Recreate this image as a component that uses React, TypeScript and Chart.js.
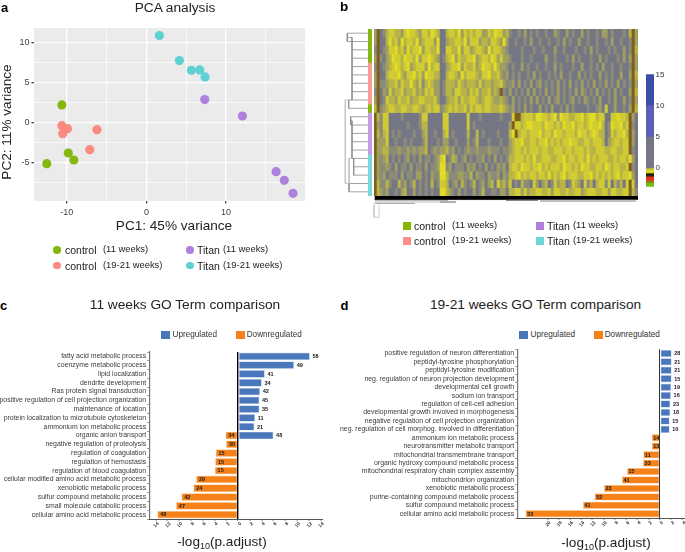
import React, { useEffect, useRef } from "react";
import { Chart, registerables } from "chart.js";

Chart.register(...registerables);

const FONT = '"Liberation Sans", Arial, sans-serif';

// ---------- Panel a: PCA ----------
const pcaControl11 = [{ x: -10.6, y: 2.18 }, { x: -9.8, y: -3.85 }, { x: -9.1, y: -4.73 }, { x: -12.5, y: -5.19 }];
const pcaControl19 = [{ x: -10.6, y: -0.42 }, { x: -9.9, y: -0.8 }, { x: -10.5, y: -1.42 }, { x: -6.2, y: -0.92 }, { x: -7.1, y: -3.43 }];
const pcaTitan19 = [{ x: 1.63, y: 10.88 }, { x: 4.14, y: 7.74 }, { x: 5.65, y: 6.53 }, { x: 6.7, y: 6.57 }, { x: 7.36, y: 5.69 }];
const pcaTitan11 = [{ x: 7.32, y: 2.85 }, { x: 12.05, y: 0.79 }, { x: 16.28, y: -6.19 }, { x: 17.3, y: -7.28 }, { x: 18.4, y: -8.91 }];
const pcaXTicks = [-10, -5, 0, 5, 10, 15];
const pcaYTicks = [-7.5, -5, -2.5, 0, 2.5, 5, 7.5, 10];

const GREEN = "#84b80f";
const PINK = "#fa8a82";
const TEAL = "#5fd0d4";
const PURPLE = "#ae82dc";

// ---------- Panel b: heat map ----------
const heatRows = [
  "26013443324 54432443543 00344352434 34422435442 31001020101 00100210020 10020100102 20100010362",
  "26003534253 44352344425 00233443524 44233244325 20010010200 10010010201 00200100100 10200100162",
  "16012445342 53445244335 00443352442 34432534432 10000100010 01000200100 01001020100 01010020163",
  "26102354435 44352445432 01345243344 52344354242 21000100100 00200100010 20100010020 10001020262",
  "16012345434 52344425344 00234452433 42354435322 10100201001 00100201000 10020010102 00100100162",
  "26003444532 44534254433 00344325344 43244533421 20101001020 10010102001 00201010020 10100200263",
  "26112334243 35324134322 01333243233 32423323342 11202010201 20101020102 01020102010 20102010162",
  "16021423342 33423243422 01332443324 34233423261 02010102020 10201020101 02021010201 01020100263",
  "26014332433 42334433342 00233424334 43234432232 10201010202 01020120101 20102101020 01020020162",
  "36123443344 33443234344 12343433424 34434433343 21201020100 20102001020 10000100120 40020010263",
  "63144000010 00001440000 04400000040 00100000010 00466344435 54434525443 34453455344 00445443620",
  "62144000000 10001330000 04400000040 10000000000 02644345544 43544343544 53443454453 01544534610",
  "63134010100 00100230010 03401000030 03010000100 03563443444 53443544344 43544345433 01434453620",
  "62224001001 01000130001 02200100020 13000100010 02344533443 44534343445 44334434443 02344344620",
  "62233111211 21212230121 22312010121 12111211101 12344343444 34433444344 34443433444 33443344610",
  "62123010101 20102011012 45013201201 01120102010 13344434353 34443344534 43443534344 43343443520",
  "62112102011 02011020112 55120111021 20102010212 03443544344 53434443544 34354433443 54344334610",
  "62120111020 11022010211 55311122113 02110211202 13345343443 44353434534 44334453434 34345344520",
  "63113100312 01301010301 44301203101 30120230423 14010311042 02301423301 43204130344 14031304640",
  "63212001023 00201010100 55321020100 20130011022 03344242334 43342443343 34423444334 42443344631",
];
const heatPalette = ["#757785", "#8b8b78", "#a09e60", "#b8b448", "#d0ca34", "#e2dc24", "#7d6020"];

const rowGroupSizes = [4, 5, 1, 5, 5];
const rowGroupColors = [GREEN, "#fb9c94", GREEN, "#c89ae6", "#78d8dc"];

// Row dendrogram: [height1, row1, height2, row2]
const dendroDark = [
  [20.7, 0, 0, 0], [20.7, 1, 0, 1], [20.7, 0, 20.7, 1], [20.7, 0.5, 16, 0.5],
  [16, 0.5, 16, 8], [16, 2, 0, 2], [16, 3, 0, 3], [16, 4, 0, 4], [16, 5, 0, 5],
  [16, 6, 0, 6], [16, 7, 0, 7], [16, 8, 0, 8], [19.3, 8, 16, 8], [19.3, 8, 19.3, 9], [19.3, 9, 0, 9],
  [17.3, 10, 0, 10], [17.3, 11, 0, 11], [17.3, 10, 17.3, 11], [17.3, 10.5, 16, 10.5],
  [16, 10.5, 16, 15], [16, 12, 0, 12], [16, 13, 0, 13], [16, 14, 0, 14], [16, 15, 0, 15],
  [14.3, 15, 14.3, 17], [14.3, 16, 0, 16], [14.3, 17, 0, 17],
  [19, 18, 0, 18], [19, 19, 0, 19], [19, 18, 19, 19],
];
const dendroLight = [
  [22.7, 8, 22.7, 18], [22.7, 8, 19.3, 8], [22.7, 18, 19, 18], [19, 15, 16, 15], [19, 15, 19, 18],
];

// Column dendrogram, squashed to a band under the heat map
const colDendroX1 = [2.7, 2.7, 76, 134, 168, 2.7, 2.7, 68];
const colDendroX2 = [266, 76, 136, 166, 264, 68, 43, 84];
const colDendroY = [1.9, 3.9, 3.6, 4.3, 5, 6, 7.3, 6];
const colDendroW = [3.8, 1, 1, 1, 1.5, 1, 1, 1.2];
const colDendroC = ["#000", "#444", "#999", "#666", "#aaa", "#bbb", "#999", "#777"];
const colDendroLegX = [2, 7];
const colDendroLegTop = 8.7;
const colDendroLegBottom = 21.3;

const colorbarLow = [10, 5, 0, -0.4, -0.7, -0.9, -1.2, -1.4, -2, -2.3];
const colorbarHigh = [15, 10, 5, 0, -0.4, -0.7, -0.9, -1.2, -1.4, -2];
const colorbarLast = [-3, -2.3];
const colorbarColors = ["#3e4ea6", "#5c5fb6", "#757785", "#c9c42e", "#e8e020", "#6e6a1a", "#111111", "#7a2a10", "#e0321a", "#8d7a1a", "#6fbf10"];
const colorbarTicks = [0, 5, 10, 15];

// ---------- Panel c ----------
const termsC = [
  "fatty acid metabolic process", "coenzyme metabolic process", "lipid localization", "dendrite development",
  "Ras protein signal transduction", "positive regulation of cell projection organization", "maintenance of location",
  "protein localization to microtubule cytoskeleton", "ammonium ion metabolic process", "organic anion transport",
  "negative regulation of proteolysis", "regulation of coagulation", "regulation of hemostasis",
  "regulation of blood coagulation", "cellular modified amino acid metabolic process", "xenobiotic metabolic process",
  "sulfur compound metabolic process", "small molecule catabolic process", "cellular amino acid metabolic process",
];
const upC = [12.17, 9.5, 4.53, 4.02, 3.73, 3.62, 3.62, 2.89, 2.77, 6.0, null, null, null, null, null, null, null, null, null];
const downC = [null, null, null, null, null, null, null, null, null, -2.15, -2.04, -3.8, -3.9, -3.96, -7.13, -7.58, -9.62, -10.53, -13.7];
const upCountC = [58, 49, 41, 34, 42, 45, 35, 11, 21, 48, null, null, null, null, null, null, null, null, null];
const downCountC = [null, null, null, null, null, null, null, null, null, 34, 30, 15, 15, 15, 29, 24, 42, 47, 48];
const ticksC = [-14, -12, -10, -8, -6, -4, -2, 0, 2, 4, 6, 8, 10, 12, 14];

// ---------- Panel d ----------
const termsD = [
  "positive regulation of neuron differentiation", "peptidyl-tyrosine phosphorylation", "peptidyl-tyrosine modification",
  "neg. regulation of neuron projection development", "developmental cell growth", "sodium ion transport",
  "regulation of cell-cell adhesion", "developmental growth involved in morphogenesis",
  "negative regulation of cell projection organization", "neg. regulation of cell morphog. involved in differentiation",
  "ammonium ion metabolic process", "neurotransmitter metabolic transport", "mitochondrial transmembrane transport",
  "organic hydroxy compound metabolic process", "mitochondrial respiratory chain complex assembly",
  "mitochondrion organization", "xenobiotic metabolic process", "purine-containing compound metabolic process",
  "sulfur compound metabolic process", "cellular amino acid metabolic process",
];
const upD = [2.08, 2.08, 2.08, 2.08, 2.0, 1.96, 1.84, 1.84, 1.72, 1.72, null, null, null, null, null, null, null, null, null, null];
const downD = [null, null, null, null, null, null, null, null, null, null, -1.48, -1.48, -2.97, -3.02, -5.87, -6.76, -9.96, -11.63, -13.7, -23.9];
const upCountD = [28, 21, 21, 15, 19, 16, 23, 18, 15, 10, null, null, null, null, null, null, null, null, null, null];
const downCountD = [null, null, null, null, null, null, null, null, null, null, 14, 13, 11, 33, 15, 41, 23, 52, 41, 53];
const ticksD = [-20, -18, -16, -14, -12, -10, -8, -6, -4, -2, 0, 2, 4];

const BLUE = "#4a76bb";
const ORANGE = "#f58218";

function goChart(
  canvas: HTMLCanvasElement,
  labels: string[],
  up: (number | null)[],
  down: (number | null)[],
  upCount: (number | null)[],
  downCount: (number | null)[],
  tickList: number[],
  o: { min: number; max: number; pad: { top: number; right: number }; yWidth: number; xHeight: number; zero: string; zeroW: number; labelSize: number; downGap: number }
) {
  const countLabels = {
    id: "countLabels",
    afterDatasetsDraw(chart: any) {
      const ctx = chart.ctx;
      ctx.save();
      ctx.font = `bold 5.5px ${FONT}`;
      ctx.fillStyle = "#1a1a1a";
      ctx.textBaseline = "middle";
      ctx.textAlign = "left";
      chart.getDatasetMeta(0).data.forEach((el: any, i: number) => {
        if (upCount[i] != null) ctx.fillText(String(upCount[i]), el.x + 2.6, el.y + 0.3);
      });
      chart.getDatasetMeta(1).data.forEach((el: any, i: number) => {
        if (downCount[i] != null) ctx.fillText(String(downCount[i]), el.x + o.downGap, el.y + 0.3);
      });
      ctx.restore();
    },
  };
  return new Chart(canvas, {
    type: "bar",
    data: {
      labels,
      datasets: [
        { label: "Upregulated", data: up, backgroundColor: BLUE, borderColor: "#c9d8ef", borderWidth: 0.7, borderSkipped: false },
        { label: "Downregulated", data: down, backgroundColor: ORANGE, borderColor: "#fbd3ae", borderWidth: 0.7, borderSkipped: false },
      ],
    } as any,
    options: {
      indexAxis: "y",
      animation: false,
      responsive: false,
      layout: { padding: { top: o.pad.top, right: o.pad.right, left: 0, bottom: 0 } },
      plugins: { legend: { display: false }, tooltip: { enabled: false } },
      datasets: { bar: { grouped: false, categoryPercentage: 1, barPercentage: 0.88 } },
      scales: {
        x: {
          type: "linear",
          min: o.min,
          max: o.max,
          afterBuildTicks: (s: any) => { s.ticks = tickList.map((value) => ({ value })); },
          afterFit: (s: any) => { s.height = o.xHeight; },
          border: { color: "#555", width: 1, z: 1 },
          grid: {
            z: 1,
            color: (c: any) => (c.tick && c.tick.value === 0 ? o.zero : "rgba(0,0,0,0)"),
            lineWidth: (c: any) => (c.tick && c.tick.value === 0 ? o.zeroW : 0),
            tickColor: "#555",
            tickLength: 2,
            tickWidth: 0.7,
          },
          ticks: {
            autoSkip: false,
            minRotation: 45,
            maxRotation: 45,
            padding: 0,
            labelOffset: 2.5,
            color: "#333",
            font: { family: FONT, size: 4.8, weight: "bold" },
            callback: (v: any) => String(Math.abs(Number(v))),
          },
        },
        y: {
          type: "category",
          afterFit: (s: any) => { s.width = o.yWidth; },
          border: { color: "#777", width: 1.2 },
          grid: { drawOnChartArea: false, tickColor: "#666", tickLength: 2.5, tickWidth: 0.7 },
          ticks: { autoSkip: false, padding: 1, color: "#3a3a3a", font: { family: FONT, size: o.labelSize } },
        },
      },
    } as any,
    plugins: [countLabels] as any,
  });
}

function T({ x, y, size, children, bold, anchor, color, rotate }: any) {
  const tx = anchor === "middle" ? "-50%" : "0";
  return (
    <div
      style={{
        position: "absolute",
        left: x,
        top: y,
        fontFamily: FONT,
        fontSize: size,
        fontWeight: bold ? "bold" : "normal",
        color: color || "#222",
        whiteSpace: "nowrap",
        lineHeight: 1,
        transform: `translate(${tx}, -50%)${rotate ? ` rotate(${rotate}deg)` : ""}`,
      }}
    >
      {children}
    </div>
  );
}

function Swatch({ x, y, w, h, color, round }: any) {
  return <div style={{ position: "absolute", left: x, top: y, width: w, height: h, background: color, borderRadius: round ? "50%" : 0 }} />;
}

const cv = (l: number, t: number, blur?: number): React.CSSProperties => ({
  position: "absolute",
  left: l,
  top: t,
  display: "block",
  filter: blur ? `blur(${blur}px)` : undefined,
});

export default function App() {
  const pcaRef = useRef<HTMLCanvasElement>(null);
  const dendroRef = useRef<HTMLCanvasElement>(null);
  const stripRef = useRef<HTMLCanvasElement>(null);
  const heatRef = useRef<HTMLCanvasElement>(null);
  const colRef = useRef<HTMLCanvasElement>(null);
  const barRef = useRef<HTMLCanvasElement>(null);
  const cRef = useRef<HTMLCanvasElement>(null);
  const dRef = useRef<HTMLCanvasElement>(null);

  useEffect(() => {
    document.body.style.margin = "0";
    const charts: Chart[] = [];

    const panelBg = {
      id: "panelBg",
      beforeDraw(chart: any) {
        const { ctx, chartArea: a } = chart;
        ctx.save();
        ctx.fillStyle = "#ebebeb";
        ctx.fillRect(a.left, a.top, a.right - a.left, a.bottom - a.top);
        ctx.restore();
      },
    };
    const isMajorX = (v: number) => v % 10 === 0;
    const isMajorY = (v: number) => v % 5 === 0;
    charts.push(
      new Chart(pcaRef.current!, {
        type: "scatter",
        data: {
          datasets: [
            { label: "control (11 weeks)", data: pcaControl11, backgroundColor: GREEN },
            { label: "control (19-21 weeks)", data: pcaControl19, backgroundColor: PINK },
            { label: "Titan (19-21 weeks)", data: pcaTitan19, backgroundColor: TEAL },
            { label: "Titan (11 weeks)", data: pcaTitan11, backgroundColor: PURPLE },
          ],
        },
        options: {
          animation: false,
          responsive: false,
          layout: { padding: { top: 28, right: 25, left: 0, bottom: 0 } },
          plugins: { legend: { display: false }, tooltip: { enabled: false } },
          elements: { point: { radius: 4.6, borderWidth: 0 } },
          scales: {
            x: {
              type: "linear",
              min: -14.1,
              max: 19.9,
              afterBuildTicks: (s: any) => { s.ticks = pcaXTicks.map((value) => ({ value })); },
              afterFit: (s: any) => { s.height = 34; },
              border: { display: false },
              grid: {
                color: "#fff",
                lineWidth: (c: any) => (isMajorX(c.tick.value) ? 1.3 : 0.7),
                tickColor: (c: any) => (isMajorX(c.tick.value) ? "#444" : "rgba(0,0,0,0)"),
                tickLength: 2.5,
              },
              ticks: {
                autoSkip: false,
                maxRotation: 0,
                padding: 4,
                color: "#444",
                font: { family: FONT, size: 9 },
                callback: (v: any) => (isMajorX(Number(v)) ? String(v) : ""),
              },
            },
            y: {
              type: "linear",
              min: -9.87,
              max: 11.83,
              afterBuildTicks: (s: any) => { s.ticks = pcaYTicks.map((value) => ({ value })); },
              afterFit: (s: any) => { s.width = 34; },
              border: { display: false },
              grid: {
                color: "#fff",
                lineWidth: (c: any) => (isMajorY(c.tick.value) ? 1.3 : 0.7),
                tickColor: (c: any) => (isMajorY(c.tick.value) ? "#444" : "rgba(0,0,0,0)"),
                tickLength: 2.5,
              },
              ticks: {
                autoSkip: false,
                padding: 2,
                color: "#444",
                font: { family: FONT, size: 9 },
                callback: (v: any) => (isMajorY(Number(v)) ? String(v) : ""),
              },
            },
          },
        } as any,
        plugins: [panelBg] as any,
      })
    );

    // dendrogram
    const toLine = (segs: number[][]) =>
      segs.flatMap((s) => [{ x: s[0], y: s[1] }, { x: s[2], y: s[3] }, { x: NaN, y: NaN }]);
    charts.push(
      new Chart(dendroRef.current!, {
        type: "scatter",
        data: {
          datasets: [
            { data: toLine(dendroLight), showLine: true, borderColor: "#c4c4c4", borderWidth: 1, pointRadius: 0, spanGaps: false },
            { data: toLine(dendroDark), showLine: true, borderColor: "#8a8a8a", borderWidth: 0.8, pointRadius: 0, spanGaps: false },
          ],
        },
        options: {
          animation: false,
          responsive: false,
          plugins: { legend: { display: false }, tooltip: { enabled: false } },
          scales: {
            x: { type: "linear", display: false, reverse: true, min: 0, max: 28 },
            y: { type: "linear", display: false, reverse: true, min: -0.5, max: 19.5 },
          },
        } as any,
      })
    );

    // annotation strip
    charts.push(
      new Chart(stripRef.current!, {
        type: "bar",
        data: {
          labels: ["group"],
          datasets: rowGroupSizes.map((n, i) => ({ data: [n], backgroundColor: rowGroupColors[i], borderWidth: 0 })),
        },
        options: {
          animation: false,
          responsive: false,
          plugins: { legend: { display: false }, tooltip: { enabled: false } },
          datasets: { bar: { categoryPercentage: 1, barPercentage: 1 } },
          scales: {
            x: { display: false, stacked: true },
            y: { display: false, stacked: true, reverse: true, min: 0, max: 20 },
          },
        } as any,
      })
    );

    // heat map
    const cells = heatRows.map((r) => r.replace(/\s/g, "").split("").map(Number));
    const columns = cells[0].map((_, i) => String(i));
    charts.push(
      new Chart(heatRef.current!, {
        type: "bar",
        data: {
          labels: columns,
          datasets: cells.map((row, r) => ({
            data: row.map(() => [r, r + 1]),
            backgroundColor: row.map((v) => heatPalette[v]),
            borderWidth: 0,
          })),
        } as any,
        options: {
          animation: false,
          responsive: false,
          plugins: { legend: { display: false }, tooltip: { enabled: false } },
          datasets: { bar: { grouped: false, categoryPercentage: 1, barPercentage: 1 } },
          scales: {
            x: { display: false },
            y: { display: false, reverse: true, min: 0, max: 20 },
          },
        } as any,
      })
    );

    // column dendrogram
    const colSets: any[] = colDendroX1.map((x1, i) => ({
      data: [{ x: x1, y: colDendroY[i] }, { x: colDendroX2[i], y: colDendroY[i] }],
      showLine: true,
      borderColor: colDendroC[i],
      borderWidth: colDendroW[i],
      pointRadius: 0,
    }));
    colSets.push({
      data: [
        { x: colDendroLegX[0], y: colDendroLegTop },
        { x: colDendroLegX[0], y: colDendroLegBottom },
        { x: colDendroLegX[1], y: colDendroLegBottom },
        { x: colDendroLegX[1], y: colDendroLegTop },
      ],
      showLine: true,
      borderColor: "#ccc",
      borderWidth: 1,
      pointRadius: 0,
    });
    charts.push(
      new Chart(colRef.current!, {
        type: "scatter",
        data: { datasets: colSets },
        options: {
          animation: false,
          responsive: false,
          plugins: { legend: { display: false }, tooltip: { enabled: false } },
          scales: {
            x: { type: "linear", display: false, min: 0, max: 280 },
            y: { type: "linear", display: false, reverse: true, min: 0, max: 26 },
          },
        } as any,
      })
    );

    // colour bar
    const lows = [...colorbarLow, colorbarLast[0]];
    const highs = [...colorbarHigh, colorbarLast[1]];
    charts.push(
      new Chart(barRef.current!, {
        type: "bar",
        data: {
          labels: ["scale"],
          datasets: lows.map((lo, i) => ({ data: [[lo, highs[i]]], backgroundColor: colorbarColors[i], borderWidth: 0 })),
        } as any,
        options: {
          animation: false,
          responsive: false,
          layout: { padding: { top: 6.3, bottom: 4.7, left: 0, right: 0 } },
          plugins: { legend: { display: false }, tooltip: { enabled: false } },
          datasets: { bar: { grouped: false, categoryPercentage: 1, barPercentage: 1 } },
          scales: {
            x: { display: false },
            y: {
              type: "linear",
              position: "right",
              min: -3,
              max: 15,
              afterBuildTicks: (s: any) => { s.ticks = colorbarTicks.map((value) => ({ value })); },
              afterFit: (s: any) => { s.width = 31; },
              border: { display: false },
              grid: { display: false, drawTicks: false },
              ticks: { padding: 1.5, color: "#333", font: { family: FONT, size: 8 } },
            },
          },
        } as any,
      })
    );

    charts.push(
      goChart(cRef.current!, termsC, upC, downC, upCountC, downCountC, ticksC, {
        min: -15,
        max: 14.4,
        pad: { top: 12, right: 7 },
        yWidth: 149.7,
        xHeight: 21,
        zero: "#000",
        zeroW: 1.4,
        labelSize: 6.9,
        downGap: 2.8,
      })
    );
    charts.push(
      goChart(dRef.current!, termsD, upD, downD, upCountD, downCountD, ticksD, {
        min: -25.3,
        max: 4.45,
        pad: { top: 9.2, right: 10 },
        yWidth: 177.7,
        xHeight: 22,
        zero: "#333",
        zeroW: 1,
        labelSize: 6.9,
        downGap: 1.6,
      })
    );

    return () => charts.forEach((c) => c.destroy());
  }, []);

  const legendA = (x0: number, textX: number, noteX: number, y: number, color: string, name: string, note: string) => (
    <>
      <Swatch x={x0 - 3.7} y={y - 3.7} w={7.4} h={7.4} color={color} round />
      <T x={textX} y={y} size={10.5}>{name}</T>
      <T x={noteX} y={y - 1} size={9.4}>{note}</T>
    </>
  );
  const legendB = (x0: number, textX: number, noteX: number, y: number, color: string, name: string, note: string) => (
    <>
      <Swatch x={x0} y={y - 4} w={8} h={8} color={color} />
      <T x={textX} y={y} size={10.5}>{name}</T>
      <T x={noteX} y={y - 1} size={9.4}>{note}</T>
    </>
  );
  const logTitle = (
    <span>
      -log<sub style={{ fontSize: 9, verticalAlign: "-3px", lineHeight: 0 }}>10</sub>(p.adjust)
    </span>
  );

  return (
    <div style={{ position: "absolute", left: 0, top: 0, width: 685, height: 552, overflow: "hidden", background: "#fff", filter: "blur(0.3px)" }}>
      <canvas ref={pcaRef} width={330} height={235} style={cv(0, 0)} />
      <canvas ref={dendroRef} width={28} height={167} style={cv(340, 29)} />
      <canvas ref={stripRef} width={4} height={167} style={cv(368.3, 29)} />
      <canvas ref={heatRef} width={264} height={167} style={cv(374, 29, 0.7)} />
      <canvas ref={colRef} width={280} height={26} style={cv(372, 196)} />
      <canvas ref={barRef} width={39} height={125} style={cv(646, 68)} />
      <canvas ref={cRef} width={330} height={200} style={cv(0, 340)} />
      <canvas ref={dRef} width={355} height={200} style={cv(340, 340)} />

      <T x={1} y={7} size={13} bold color="#000">a</T>
      <T x={175} y={7.5} size={13.7} anchor="middle">PCA analysis</T>
      <T x={174} y={226} size={13.6} anchor="middle">PC1: 45% variance</T>
      <T x={7} y={122} size={13.6} anchor="middle" rotate={-90}>PC2: 11% variance</T>
      {legendA(57, 65, 103, 250, GREEN, "control", "(11 weeks)")}
      {legendA(57, 65, 103, 265.5, PINK, "control", "(19-21 weeks)")}
      {legendA(190, 197, 223, 250, PURPLE, "Titan", "(11 weeks)")}
      {legendA(190, 197, 223, 265.5, TEAL, "Titan", "(19-21 weeks)")}

      <T x={340} y={7} size={13.5} bold color="#000">b</T>
      {legendB(403.3, 414, 452, 225.5, "#84b800", "control", "(11 weeks)")}
      {legendB(403.3, 414, 452, 241, "#fb8f85", "control", "(19-21 weeks)")}
      {legendB(535.7, 547, 573, 225.5, "#b07fdc", "Titan", "(11 weeks)")}
      {legendB(535.7, 547, 573, 241, "#6fd4d8", "Titan", "(19-21 weeks)")}

      <T x={0} y={305} size={13} bold color="#000">c</T>
      <T x={185} y={305} size={13.7} anchor="middle">11 weeks GO Term comparison</T>
      <Swatch x={161} y={331} w={9} h={8} color={BLUE} />
      <T x={172.5} y={335} size={8.2} color="#333">Upregulated</T>
      <Swatch x={236} y={331} w={8.5} h={8} color={ORANGE} />
      <T x={246.7} y={335} size={8.2} color="#333">Downregulated</T>
      <T x={222} y={542} size={13.6} anchor="middle">{logTitle}</T>

      <T x={340.5} y={305} size={13} bold color="#000">d</T>
      <T x={535.5} y={305} size={13.7} anchor="middle">19-21 weeks GO Term comparison</T>
      <Swatch x={519} y={331} w={9} h={8} color={BLUE} />
      <T x={530.5} y={335} size={8.2} color="#333">Upregulated</T>
      <Swatch x={594} y={331} w={8.5} h={8} color={ORANGE} />
      <T x={604.7} y={335} size={8.2} color="#333">Downregulated</T>
      <T x={606} y={543} size={13.6} anchor="middle">{logTitle}</T>
    </div>
  );
}
